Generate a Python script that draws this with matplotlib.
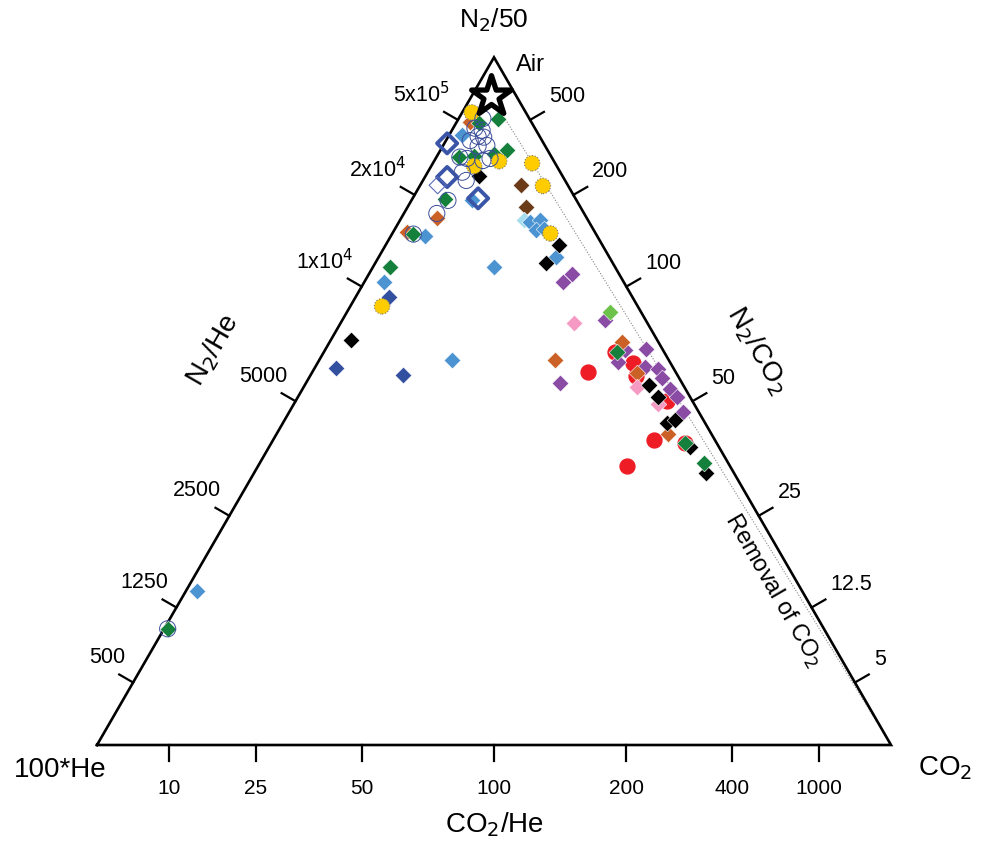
import numpy as np
import matplotlib.pyplot as plt

plt.rcParams['font.family'] = ['Liberation Sans', 'DejaVu Sans']

# --- data: ternary composition in %, top = N2/50, right = CO2 (100*He = rest)
red_top = [54.2, 55.5, 53.6, 50.0, 44.3, 43.9, 40.6, 57.1]
red_right = [34.7, 39.75, 41.1, 46.8, 47.95, 52.1, 46.4, 36.65]

yellow_top = [92.0, 84.9, 84.6, 81.3, 74.4, 63.8, 84.2]
yellow_right = [1.2, 8.2, 12.5, 15.5, 19.9, 4.0, 5.4]

green_top = [91.1, 90.4, 86.5, 85.9, 85.6, 85.5, 79.4, 74.3, 69.5, 16.9, 57.1, 43.9, 41.0]
green_right = [5.0, 2.9, 8.4, 7.05, 4.7, 2.9, 4.1, 2.7, 2.15, 0.45, 36.9, 52.1, 55.9]

lblue_top = [88.7, 83.9, 79.2, 74.0, 67.3, 69.5, 76.0, 76.3, 74.9, 75.1, 70.9, 22.4, 56.0]
lblue_right = [1.6, 5.7, 7.6, 4.3, 2.5, 15.25, 16.5, 17.6, 17.9, 18.7, 22.4, 1.4, 16.7]

pale_top = [76.3]
pale_right = [15.6]

dblue_top = [65.1, 54.8, 53.8]
dblue_right = [4.2, 2.7, 11.6]

odiam_top = [87.5, 82.6, 79.5]
odiam_right = [0.35, 2.8, 8.25]
thin_diam_top = [81.4]
thin_diam_right = [2.2]

orange_top = [90.6, 76.6, 74.6, 58.6, 56.0, 54.1, 45.3]
orange_right = [1.7, 4.5, 1.7, 36.8, 29.7, 40.95, 49.25]

brown_top = [81.4, 78.3]
brown_right = [12.7, 14.85]

black_top = [82.7, 72.7, 70.1, 58.9, 52.3, 50.6, 46.8, 47.2, 43.3, 39.5]
black_right = [6.75, 21.85, 21.45, 2.55, 43.35, 45.35, 48.4, 49.2, 53.05, 56.95]

purple_top = [67.3, 68.5, 61.8, 55.7, 57.4, 57.6, 54.9, 54.65, 53.3, 51.7, 50.6, 48.4, 52.6]
purple_right = [25.05, 25.55, 33.1, 37.75, 37.8, 40.3, 41.55, 43.35, 44.55, 46.35, 47.7, 49.6, 32.0]

lgreen_top = [62.9]
lgreen_right = [33.15]

pink_top = [61.3, 52.0, 49.6]
pink_right = [29.45, 42.0, 45.85]

ocirc_top = [91.1, 89.7, 89.4, 88.5, 88.4, 87.9, 87.2, 87.1, 85.5, 85.0, 85.3, 83.3, 82.1,
             79.2, 77.3, 74.3, 16.9, 85.3]
ocirc_right = [3.05, 2.75, 3.8, 3.75, 4.5, 3.05, 5.5, 4.45, 2.95, 6.1, 3.95, 4.35, 5.45,
               4.6, 4.15, 2.7, 0.45, 6.85]

# air (vol %)
air_n2, air_he, air_co2 = 78.08, 0.000524, 0.04

# ratio ticks
co2he_ticks = [10, 25, 50, 100, 200, 400, 1000]
n2he_ticks = [500, 1250, 2500, 5000, 1e4, 2e4, 5e4]
n2he_labels = ['500', '1250', '2500', '5000', '1x10$^4$', '2x10$^4$', '5x10$^5$']
n2co2_ticks = [5, 12.5, 25, 50, 100, 200, 500]
n2co2_labels = ['5', '12.5', '25', '50', '100', '200', '500']

H = np.sqrt(3) / 2
PX = 1 / 794.0


def tern(top, right):
    top = np.asarray(top, dtype=float) / 100
    right = np.asarray(right, dtype=float) / 100
    return right + top / 2, top * H


fig = plt.figure(figsize=(9.82, 8.43), dpi=100)
ax = fig.add_axes([0, 0, 1, 1])
ax.set_xlim(-97 * PX, 885 * PX)
ax.set_ylim(-98 * PX, 745 * PX)
ax.set_aspect('equal')
ax.axis('off')

# triangle
ax.plot([0, 1, 0.5, 0], [0, 0, H, 0], color='black', lw=1.9, solid_joinstyle='miter', zorder=2)

# ticks
tl = 16 * PX
for r in co2he_ticks:
    f = r / (100 + r)
    ax.plot([f, f], [0, -tl], color='black', lw=1.6)
    ax.text(f, -44 * PX, str(r), ha='center', va='center', fontsize=15)
nl = np.array([-H, 0.5])
for r, lab in zip(n2he_ticks, n2he_labels):
    f = r / (5000 + r)
    p = np.array([f / 2, f * H])
    e = p + nl * tl
    ax.plot([p[0], e[0]], [p[1], e[1]], color='black', lw=1.6)
    ax.text(e[0] + 6 * PX, e[1] + 17 * PX, lab, ha='right', va='center', fontsize=15.5)
nr = np.array([H, 0.5])
for r, lab in zip(n2co2_ticks, n2co2_labels):
    f = r / (50 + r)
    p = np.array([1 - f / 2, f * H])
    e = p + nr * tl
    ax.plot([p[0], e[0]], [p[1], e[1]], color='black', lw=1.6)
    ax.text(e[0] + 5 * PX, e[1] + 15 * PX, lab, ha='left', va='center', fontsize=15.5)

# removal of CO2 line: from air towards the CO2 apex
s = air_n2 / 50 + 100 * air_he + air_co2
ax_air, ay_air = tern(100 * air_n2 / 50 / s, 100 * air_co2 / s)
ax.plot([ax_air, 1], [ay_air, 0], color='#888888', lw=0.8, ls=(0, (1, 1.5)), zorder=1)

# markers
dk = dict(marker='D', s=72, edgecolors='white', linewidths=0.4, zorder=4)
x, y = tern(red_top, red_right)
ax.scatter(x, y, s=115, marker='o', color='#EE1C25', edgecolors='#EE1C25', zorder=3)
for tp, rt, c in [(purple_top, purple_right, '#8A4BA5'), (orange_top, orange_right, '#CC6128'),
                  (brown_top, brown_right, '#6B3A18'), (pink_top, pink_right, '#F59BC3'),
                  (lgreen_top, lgreen_right, '#6CC24A'), (pale_top, pale_right, '#A6DDEE'),
                  (lblue_top, lblue_right, '#4B93D1'), (dblue_top, dblue_right, '#3350A0'),
                  (black_top, black_right, '#000000'), (green_top, green_right, '#14803C')]:
    x, y = tern(tp, rt)
    ax.scatter(x, y, color=c, **dk)
x, y = tern(yellow_top, yellow_right)
ax.scatter(x, y, s=125, marker='o', color='#FFCC00', edgecolors='#777777', linewidths=0.8,
           linestyles=':', zorder=4)
x, y = tern(odiam_top, odiam_right)
ax.scatter(x, y, s=105, marker='D', facecolors='none', edgecolors='#3A55A8', linewidths=2.8, zorder=5)
x, y = tern(thin_diam_top, thin_diam_right)
ax.scatter(x, y, s=75, marker='D', facecolors='none', edgecolors='#5A6FB8', linewidths=0.8, zorder=5)
x, y = tern(ocirc_top, ocirc_right)
ax.scatter(x, y, s=135, marker='o', facecolors='none', edgecolors='#3C4E9A', linewidths=0.7, zorder=5)

ax.scatter([ax_air], [ay_air], s=900, marker='*', facecolors='white', edgecolors='black',
           linewidths=3.8, zorder=6)

# labels
ax.text(0.5, H + 37 * PX, 'N$_2$/50', ha='center', va='center', fontsize=19)
ax.text(0.5 + 36 * PX, H - 8 * PX, 'Air', ha='center', va='center', fontsize=17)
ax.text(-37 * PX, -25 * PX, '100*He', ha='center', va='center', fontsize=20)
ax.text(1 + 54 * PX, -23 * PX, 'CO$_2$', ha='center', va='center', fontsize=20)
ax.text(0.5, -80 * PX, 'CO$_2$/He', ha='center', va='center', fontsize=20)
ax.text(116 * PX, 395 * PX, 'N$_2$/He', ha='center', va='center', fontsize=20, rotation=60)
ax.text(660 * PX, 395 * PX, 'N$_2$/CO$_2$', ha='center', va='center', fontsize=20, rotation=-60)
ax.text(676 * PX, 155 * PX, 'Removal of CO$_2$', ha='center', va='center', fontsize=17, rotation=-60)

fig.savefig('out.png', dpi=100)
